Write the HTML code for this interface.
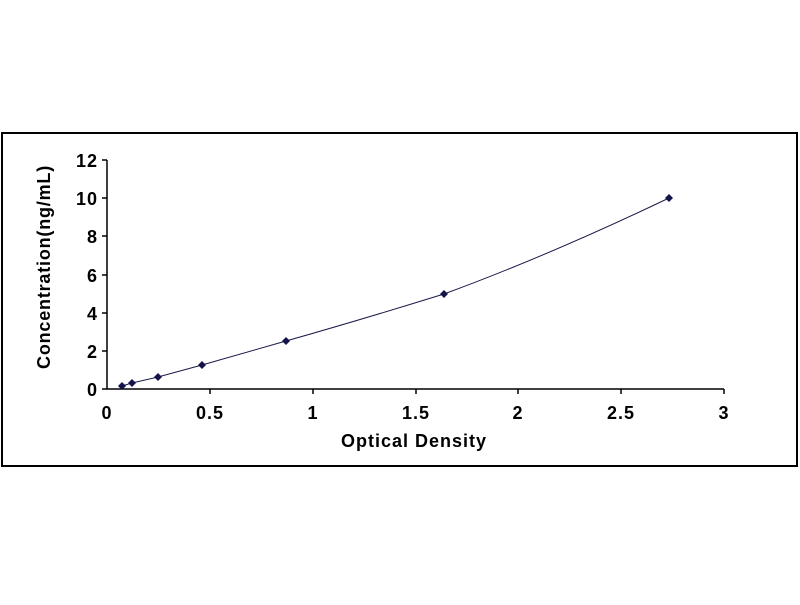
<!DOCTYPE html>
<html><head><style>body{margin:0;background:#fff}</style></head><body>
<svg width="800" height="600" xmlns="http://www.w3.org/2000/svg" font-family="Liberation Sans, sans-serif" font-weight="bold">
<rect x="2" y="133" width="795" height="333" fill="#fff" stroke="#000" stroke-width="2"/>
<g stroke="#000" stroke-width="1.5">
<line x1="107" y1="160" x2="107" y2="389"/>
<line x1="107" y1="389" x2="724" y2="389"/>
<line x1="102" y1="160" x2="107" y2="160"/>
<line x1="102" y1="198" x2="107" y2="198"/>
<line x1="102" y1="236" x2="107" y2="236"/>
<line x1="102" y1="275" x2="107" y2="275"/>
<line x1="102" y1="313" x2="107" y2="313"/>
<line x1="102" y1="351" x2="107" y2="351"/>
<line x1="102" y1="389" x2="107" y2="389"/>
<line x1="210" y1="389" x2="210" y2="394"/>
<line x1="313" y1="389" x2="313" y2="394"/>
<line x1="416" y1="389" x2="416" y2="394"/>
<line x1="518" y1="389" x2="518" y2="394"/>
<line x1="621" y1="389" x2="621" y2="394"/>
<line x1="724" y1="389" x2="724" y2="394"/>
</g>
<g font-size="18" text-anchor="end" letter-spacing="1">
<text x="98" y="167">12</text><text x="98" y="205">10</text><text x="98" y="243">8</text>
<text x="98" y="282">6</text><text x="98" y="320">4</text><text x="98" y="358">2</text><text x="98" y="396">0</text>
</g>
<g font-size="18" text-anchor="middle" letter-spacing="1">
<text x="107" y="419">0</text><text x="210" y="419">0.5</text><text x="313" y="419">1</text>
<text x="416" y="419">1.5</text><text x="518" y="419">2</text><text x="621" y="419">2.5</text><text x="724" y="419">3</text>
</g>
<text x="414" y="447" font-size="18" text-anchor="middle" letter-spacing="1">Optical Density</text>
<text transform="translate(50,267) rotate(-90)" font-size="18" text-anchor="middle" letter-spacing="0.8">Concentration(ng/mL)</text>
<path d="M122,386 L132,383 L158,377 L202,365 L286,341 Q360,320 444,294 Q550,255 669,198" fill="none" stroke="#1a1a4a" stroke-width="1"/>
<g fill="#14144a">
<path d="M122,382 l4,4 l-4,4 l-4,-4z"/>
<path d="M132,379 l4,4 l-4,4 l-4,-4z"/>
<path d="M158,373 l4,4 l-4,4 l-4,-4z"/>
<path d="M202,361 l4,4 l-4,4 l-4,-4z"/>
<path d="M286,337 l4,4 l-4,4 l-4,-4z"/>
<path d="M444,290 l4,4 l-4,4 l-4,-4z"/>
<path d="M669,194 l4,4 l-4,4 l-4,-4z"/>
</g>
</svg>
</body></html>
